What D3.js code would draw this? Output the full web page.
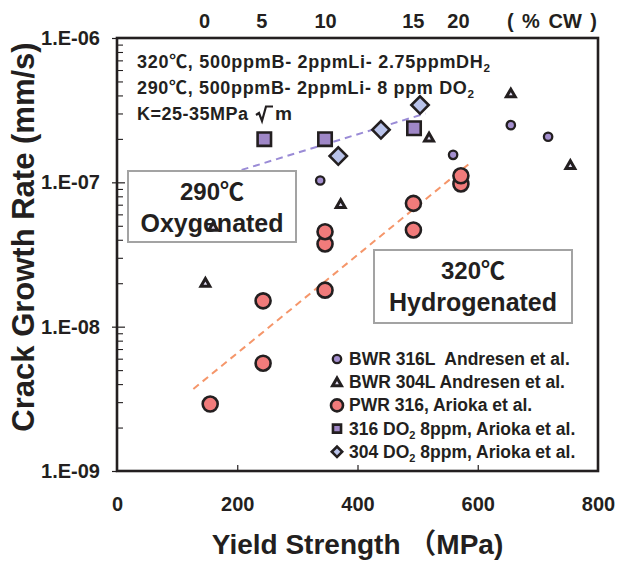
<!DOCTYPE html>
<html><head><meta charset="utf-8">
<script src="https://cdn.jsdelivr.net/npm/d3@7"></script>
<style>
body{margin:0;background:#fff}
svg{display:block}
text{font-family:"Liberation Sans",Arial,"Noto Sans CJK JP",sans-serif;font-weight:bold;fill:#231f20}
</style></head>
<body><svg id="c" width="617" height="569"></svg>
<script>
// ---- data ----
const xTickValues = [0, 200, 400, 600, 800];
const yDecades = [1e-9, 1e-8, 1e-7, 1e-6];
const yTickLabels = ["1.E-09", "1.E-08", "1.E-07", "1.E-06"];
const cwLabels = ["0", "5", "10", "15", "20"];
const cwYield = [145, 240, 346, 492, 567];

const bwr316L_x = [338, 559, 655, 717];
const bwr316L_y = [1.03e-7, 1.55e-7, 2.49e-7, 2.07e-7];
const bwr304L_x = [147, 160, 372, 519, 655, 754];
const bwr304L_y = [2.02e-8, 4.93e-8, 7.08e-8, 2.05e-7, 4.14e-7, 1.32e-7];
const pwr316_x = [155, 243, 243, 346, 346, 346, 493, 493, 572, 572];
const pwr316_y = [2.91e-9, 5.58e-9, 1.51e-8, 1.79e-8, 3.74e-8, 4.55e-8, 4.68e-8, 7.15e-8, 9.74e-8, 1.11e-7];
const do316_x = [245, 346, 494];
const do316_y = [1.99e-7, 1.99e-7, 2.37e-7];
const do304_x = [368, 439, 504];
const do304_y = [1.52e-7, 2.31e-7, 3.43e-7];
const oxyTrend_x = [150, 513];
const oxyTrend_y = [1.03e-7, 3.0e-7];
const hydTrend_x = [127, 588];
const hydTrend_y = [3.7e-9, 1.37e-7];

const legendLabels = ["BWR 316L  Andresen et al.", "BWR 304L Andresen et al.", "PWR 316, Arioka et al.", "316 DO|2| 8ppm, Arioka et al.", "304 DO|2| 8ppm, Arioka et al."];

// ---- layout ----
const L = 117, R = 598, T = 38, B = 471;
const svg = d3.select("#c");
const x = d3.scaleLinear().domain([0, 800]).range([L, R]);
const y = d3.scaleLog().domain([1e-9, 1e-6]).range([B, T]);
const ink = "#231f20";

const styles = {
  bwr316L: {type: "circle", r: 4.2, fill: "#a48fcf", sw: 2.3},
  bwr304L: {type: "triangle", size: 34, fill: "#e2ddf3", sw: 3},
  pwr316: {type: "circle", r: 7.5, fill: "#f17b7b", sw: 2.6},
  do316: {type: "square", size: 180, fill: "#9f87c7", sw: 2.6},
  do304: {type: "diamond", size: 150, fill: "#b9c3ea", sw: 2.6}
};
function drawMarker(g, st, cx, cy, scale = 1) {
  if (st.type === "circle") {
    g.append("circle").attr("cx", cx).attr("cy", cy).attr("r", st.r * scale)
      .attr("fill", st.fill).attr("stroke", ink).attr("stroke-width", st.sw);
  } else {
    const sym = st.type === "triangle" ? d3.symbolTriangle : d3.symbolSquare;
    const rot = st.type === "diamond" ? 45 : 0;
    const dy = st.type === "triangle" ? 1 : 0;
    g.append("path").attr("d", d3.symbol(sym, st.size * scale * scale)())
      .attr("transform", `translate(${cx},${cy + dy}) rotate(${rot})`)
      .attr("fill", st.fill).attr("stroke", ink).attr("stroke-width", st.sw).attr("stroke-linejoin", "miter");
  }
}

// ---- axes ----
const yAxisL = d3.axisLeft(y).tickValues(yDecades).tickSize(5).tickPadding(12)
  .tickFormat((d, i) => yTickLabels[i]);
const gy = svg.append("g").attr("transform", `translate(${L},0)`).call(yAxisL);
gy.select(".domain").remove();
gy.selectAll("line").attr("stroke", ink).attr("stroke-width", 1.2);
gy.selectAll("text").style("font-size", "20px").attr("fill", ink);

const minors = [];
yDecades.slice(0, 3).forEach(d => { for (let k = 2; k <= 9; k++) minors.push(d * k); });
const gyMin = svg.append("g").attr("transform", `translate(${L},0)`)
  .call(d3.axisRight(y).tickValues(minors).tickSize(6).tickFormat(""));
gyMin.select(".domain").remove();
gyMin.selectAll("line").attr("stroke", ink).attr("stroke-width", 1.1);
const gyMaj = svg.append("g").attr("transform", `translate(${L},0)`)
  .call(d3.axisRight(y).tickValues(yDecades.slice(1, 3)).tickSize(8).tickFormat(""));
gyMaj.select(".domain").remove();
gyMaj.selectAll("line").attr("stroke", ink).attr("stroke-width", 1.2);

const gx = svg.append("g").attr("transform", `translate(0,${B})`)
  .call(d3.axisBottom(x).tickValues(xTickValues).tickSize(0).tickPadding(26).tickFormat(d3.format("d")));
gx.select(".domain").remove();
gx.selectAll("text").style("font-size", "20px").attr("fill", ink);
const gxIn = svg.append("g").attr("transform", `translate(0,${B})`)
  .call(d3.axisTop(x).tickValues(xTickValues.slice(1, 4)).tickSize(6).tickFormat(""));
gxIn.select(".domain").remove();
gxIn.selectAll("line").attr("stroke", ink).attr("stroke-width", 1.2);

const gt = svg.append("g").attr("transform", `translate(0,${T})`)
  .call(d3.axisTop(x).tickValues(cwYield).tickSize(0).tickPadding(10).tickFormat((d, i) => cwLabels[i]));
gt.select(".domain").remove();
gt.selectAll("text").style("font-size", "20px").attr("fill", ink);
svg.append("text").attr("x", 597).attr("y", 28).attr("text-anchor", "end").style("font-size", "20px")
  .style("white-space", "pre").style("word-spacing", "3px").text("( % CW )");

// axis titles
svg.append("text").attr("x", x(400)).attr("y", 554).attr("text-anchor", "middle")
  .style("font-size", "28px").text("Yield Strength （MPa)");
svg.append("text").attr("transform", "translate(34,237) rotate(-90)").attr("text-anchor", "middle")
  .style("font-size", "31px").text("Crack Growth Rate (mm/s)");

// ---- trend lines ----
const line = d3.line().x(d => x(d[0])).y(d => y(d[1]));
svg.append("path").attr("d", line(d3.zip(oxyTrend_x, oxyTrend_y)))
  .attr("fill", "none").attr("stroke", "#9a8bd6").attr("stroke-width", 2).attr("stroke-dasharray", "7,5");
svg.append("path").attr("d", line(d3.zip(hydTrend_x, hydTrend_y)))
  .attr("fill", "none").attr("stroke", "#f5966a").attr("stroke-width", 2).attr("stroke-dasharray", "7,5");

// ---- annotation boxes ----
function box(x0, y0, w, h, l1, l2, cx) {
  svg.append("rect").attr("x", x0).attr("y", y0).attr("width", w).attr("height", h)
    .attr("fill", "#fff").attr("stroke", "#a3a3a3").attr("stroke-width", 2);
  svg.append("text").attr("x", cx).attr("y", y0 + 29).attr("text-anchor", "middle").style("font-size", "24px").text(l1);
  svg.append("text").attr("x", x0 + w / 2).attr("y", y0 + 61).attr("text-anchor", "middle").style("font-size", "25px").text(l2);
}
box(128, 171, 168, 71, "290℃", "Oxygenated", 212);
box(374, 250, 198, 73, "320℃", "Hydrogenated", 473);

// ---- frame ----
svg.append("rect").attr("x", L).attr("y", T).attr("width", R - L).attr("height", B - T)
  .attr("fill", "none").attr("stroke", ink).attr("stroke-width", 2.6);

// ---- points ----
const pts = svg.append("g");
function series(xs, ys, st) { xs.forEach((v, i) => drawMarker(pts, st, x(v), y(ys[i]))); }
series(bwr316L_x, bwr316L_y, styles.bwr316L);
series(bwr304L_x, bwr304L_y, styles.bwr304L);
series(pwr316_x, pwr316_y, styles.pwr316);
series(do316_x, do316_y, styles.do316);
series(do304_x, do304_y, styles.do304);

// ---- condition text ----
function subText(t, xx, yy, size, len) {
  const el = svg.append("text").attr("x", xx).attr("y", yy).style("font-size", size + "px").style("white-space", "pre");
  if (len) el.attr("textLength", len).attr("lengthAdjust", "spacing");
  t.split("|").forEach((p, i) => {
    const ts = el.append("tspan").text(p);
    if (i % 2 === 1) ts.style("font-size", (size * 0.65) + "px").attr("dy", size * 0.2);
    else if (i > 0) ts.attr("dy", -size * 0.2);
  });
  return el;
}
subText("320℃, 500ppmB- 2ppmLi- 2.75ppmDH|2|", 137, 68, 18, 353);
subText("290℃, 500ppmB- 2ppmLi- 8 ppm DO|2|", 137, 94, 18, 337);
svg.append("text").attr("x", 137).attr("y", 120).style("font-size", "18px")
  .attr("textLength", 111).attr("lengthAdjust", "spacing").text("K=25-35MPa");
// radical sign drawn as a small path next to the text
svg.append("path").attr("d", "M256,115 L259,113 L262,121 L266,106.5 L273,106.5")
  .attr("fill", "none").attr("stroke", ink).attr("stroke-width", 2.2).attr("stroke-linejoin", "miter");
svg.append("text").attr("x", 275).attr("y", 120).style("font-size", "18px")
  .attr("textLength", 17).attr("lengthAdjust", "spacingAndGlyphs").text("m");

// ---- legend ----
const legendStyles = [styles.bwr316L, styles.bwr304L, styles.pwr316, styles.do316, styles.do304];
const legendScale = [1, 1, 0.8, 0.6, 0.6];
legendLabels.forEach((lab, i) => {
  const cy = 359 + i * 23.2;
  drawMarker(svg, legendStyles[i], 337, cy, legendScale[i]);
  const el = svg.append("text").attr("x", 349).attr("y", cy + 6).style("font-size", "17.5px").style("white-space", "pre");
  lab.split("|").forEach((p, j) => {
    const ts = el.append("tspan").text(p);
    if (j === 1) ts.style("font-size", "11px").attr("dy", 4);
    else if (j === 2) ts.attr("dy", -4);
  });
});
</script></body></html>
